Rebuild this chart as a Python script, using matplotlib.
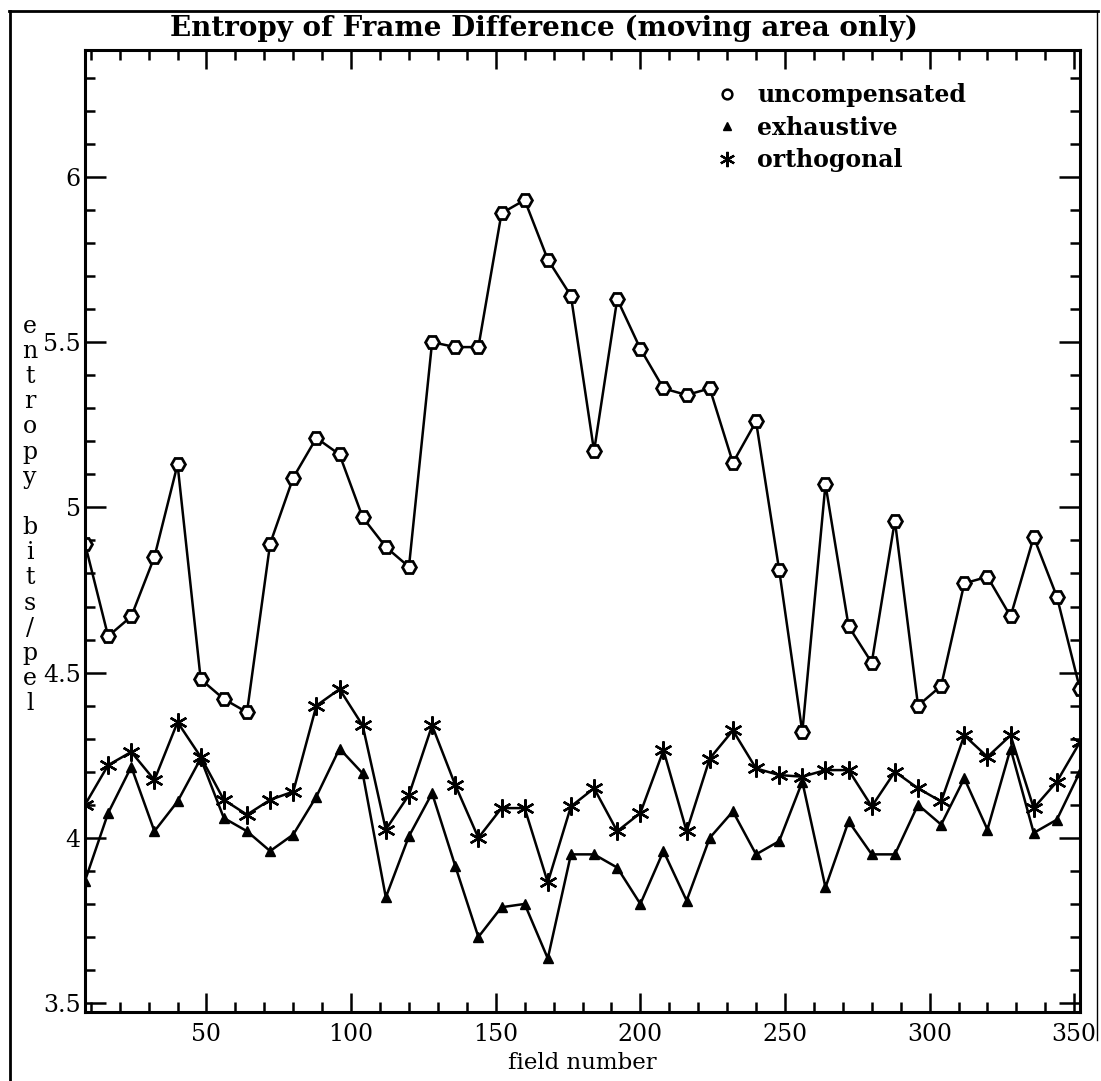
import matplotlib
matplotlib.use('Agg')
import matplotlib.pyplot as plt
from matplotlib.lines import Line2D
from matplotlib.ticker import MultipleLocator

plt.rcParams['font.family'] = 'DejaVu Serif'

# field numbers (every 8th field)
fields = [8, 16, 24, 32, 40, 48, 56, 64, 72, 80, 88, 96, 104, 112, 120,
          128, 136, 144, 152, 160, 168, 176, 184, 192, 200, 208, 216, 224,
          232, 240, 248, 256, 264, 272, 280, 288, 296, 304, 312, 320, 328,
          336, 344, 352]

uncompensated = [4.89, 4.61, 4.67, 4.85, 5.13, 4.48, 4.42, 4.38, 4.89, 5.09,
                 5.21, 5.16, 4.97, 4.88, 4.82, 5.50, 5.485, 5.485, 5.89, 5.93,
                 5.75, 5.64, 5.17, 5.63, 5.48, 5.36, 5.34, 5.36, 5.135, 5.26,
                 4.81, 4.32, 5.07, 4.64, 4.53, 4.96, 4.40, 4.46, 4.77, 4.79,
                 4.67, 4.91, 4.73, 4.45]

exhaustive = [3.87, 4.075, 4.215, 4.02, 4.11, 4.24, 4.06, 4.02, 3.96, 4.01,
              4.125, 4.27, 4.195, 3.82, 4.005, 4.135, 3.915, 3.70, 3.79, 3.80,
              3.635, 3.95, 3.95, 3.91, 3.80, 3.96, 3.81, 4.00, 4.08, 3.95,
              3.99, 4.17, 3.85, 4.05, 3.95, 3.95, 4.10, 4.04, 4.18, 4.025,
              4.27, 4.015, 4.055, 4.20]

orthogonal = [4.10, 4.22, 4.26, 4.175, 4.35, 4.245, 4.115, 4.07, 4.115, 4.14,
              4.40, 4.45, 4.34, 4.025, 4.13, 4.34, 4.16, 4.00, 4.09, 4.09,
              3.865, 4.095, 4.15, 4.02, 4.075, 4.265, 4.02, 4.24, 4.325, 4.21,
              4.19, 4.185, 4.205, 4.205, 4.095, 4.20, 4.15, 4.11, 4.31, 4.245,
              4.31, 4.09, 4.17, 4.29]

y_ticks = [3.5, 4, 4.5, 5, 5.5, 6]
y_tick_labels = ['3.5', '4', '4.5', '5', '5.5', '6']
x_ticks = [50, 100, 150, 200, 250, 300, 350]

W, H = 1101, 1081
fig = plt.figure(figsize=(W / 100, H / 100), dpi=100)
ax = fig.add_axes([85 / W, 1 - 1012 / H, (1080 - 85) / W, (1012 - 50) / H])

ax.plot(fields, uncompensated, color='black', lw=1.8, marker='H', ms=10,
        mfc='white', mec='black', mew=2.0, label='uncompensated')
ax.plot(fields, exhaustive, color='black', lw=1.8, marker='^', ms=7,
        mfc='black', mec='black', label='exhaustive')
ax.plot(fields, orthogonal, color='black', lw=1.8, marker=(6, 2, 0), ms=13,
        mec='black', mew=1.7, label='orthogonal')

ax.set_xlim(8, 352)
ax.set_ylim(3.473, 6.384)

ax.set_xticks(x_ticks)
ax.xaxis.set_minor_locator(MultipleLocator(10))
ax.set_yticks(y_ticks)
ax.set_yticklabels(y_tick_labels)
ax.yaxis.set_minor_locator(MultipleLocator(0.1))

ax.tick_params(which='both', direction='in', top=True, right=True,
               width=1.8, labelsize=17, colors='black')
ax.tick_params(axis='x', which='major', length=14, pad=8)
ax.tick_params(axis='y', which='major', length=15, pad=3)
ax.tick_params(which='minor', length=7)
for sp in ax.spines.values():
    sp.set_linewidth(2.2)

# legend: markers only, no lines
handles = [
    Line2D([], [], ls='none', marker='o', ms=7, mfc='white', mec='black', mew=1.8),
    Line2D([], [], ls='none', marker='^', ms=6, mfc='black', mec='black'),
    Line2D([], [], ls='none', marker=(6, 2, 0), ms=11, mec='black', mew=1.6),
]
ax.legend(handles, ['uncompensated', 'exhaustive', 'orthogonal'],
          loc='upper left', bbox_to_anchor=(703 / W, 1 - 71 / H),
          bbox_transform=fig.transFigure, frameon=False,
          prop={'weight': 'bold', 'size': 17}, handlelength=1.0,
          handletextpad=0.8, labelspacing=0.37, borderpad=0)

fig.text(544 / W, 1 - 28 / H, 'Entropy of Frame Difference (moving area only)',
         ha='center', va='center', fontsize=20, fontweight='bold')
fig.text(582 / W, 1 - 1063 / H, 'field number', ha='center', va='center',
         fontsize=16.5)
ylabel = 'entropy bits/pel'
fig.text(30 / W, 1 - 515 / H, '\n'.join(ylabel), ha='center', va='center',
         fontsize=17, linespacing=1.12)

# outer frame
frame = dict(color='black', lw=2.0, transform=fig.transFigure)
fig.add_artist(Line2D([9 / W, 1098 / W], [1 - 11 / H, 1 - 11 / H], **frame))
fig.add_artist(Line2D([10 / W, 10 / W], [1 - 11 / H, 0], **frame))
fig.add_artist(Line2D([1097 / W, 1097 / W], [1 - 11 / H, 1 - 1040 / H],
                      color='black', lw=1.0, transform=fig.transFigure))

fig.savefig('out.png', dpi=100)
